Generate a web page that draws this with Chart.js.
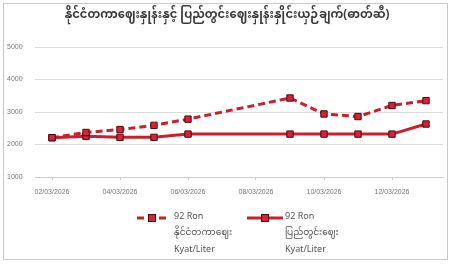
<!DOCTYPE html>
<html>
<head>
<meta charset="utf-8">
<script src="https://cdn.jsdelivr.net/npm/chart.js@4"></script>
<style>
    body { margin: 0; background: #fff; }
    #wrap { width: 459px; height: 265px; }
</style>
</head>
<body>
<div id="wrap"><canvas id="chart" width="459" height="265"></canvas></div>
<script>
const chartTitle = "နိုင်ငံတကာဈေးနှုန်းနှင့် ပြည်တွင်းဈေးနှုန်းနှိုင်းယှဉ်ချက်(ဓာတ်ဆီ)";
const dates = ["02/03/2026", "03/03/2026", "04/03/2026", "05/03/2026", "06/03/2026", "07/03/2026",
    "08/03/2026", "09/03/2026", "10/03/2026", "11/03/2026", "12/03/2026", "13/03/2026"];
const worldPrice = [2210, 2370, 2460, 2590, 2780, null, null, 3430, 2940, 2860, 3200, 3350];
const localPrice = [2210, 2250, 2220, 2220, 2320, null, null, 2320, 2320, 2320, 2320, 2630];
const legendLines = [
    ["92 Ron", "နိုင်ငံတကာဈေး", "Kyat/Liter"],
    ["92 Ron", "ပြည်တွင်းဈေး", "Kyat/Liter"]
];
const yTicks = [1000, 2000, 3000, 4000, 5000];

const myFont = "'Noto Sans Myanmar', 'Padauk', 'Myanmar Text', 'Noto Sans', sans-serif";

const framePlugin = {
    id: "frame",
    beforeDraw(chart) {
        const ctx = chart.ctx;
        ctx.save();
        ctx.fillStyle = "#fff";
        ctx.fillRect(0, 0, chart.width, chart.height);
        ctx.strokeStyle = "#c8c8c8";
        ctx.lineWidth = 1;
        ctx.strokeRect(3.5, 3.5, 444, 256);
        ctx.fillStyle = "#3a3a3a";
        ctx.font = "bold 11.5px " + myFont;
        ctx.textAlign = "center";
        ctx.textBaseline = "middle";
        ctx.fillText(chartTitle, 227, 17);
        ctx.restore();
    },
    afterDraw(chart) {
        // legend with three-line labels
        const ctx = chart.ctx;
        const spots = [{ x: 137, w: 30, tx: 174 }, { x: 247, w: 36, tx: 285 }];
        ctx.save();
        chart.data.datasets.forEach((ds, i) => {
            const s = spots[i];
            const y = 218;
            ctx.strokeStyle = ds.borderColor;
            ctx.lineWidth = ds.borderWidth;
            ctx.setLineDash(ds.borderDash || []);
            ctx.beginPath();
            ctx.moveTo(s.x, y);
            ctx.lineTo(s.x + s.w, y);
            ctx.stroke();
            ctx.setLineDash([]);
            ctx.fillStyle = ds.pointBackgroundColor;
            ctx.strokeStyle = ds.pointBorderColor;
            ctx.lineWidth = 1;
            const cx = s.x + s.w / 2;
            ctx.fillRect(cx - 3.5, y - 3.5, 7, 7);
            ctx.strokeRect(cx - 3.5, y - 3.5, 7, 7);
            ctx.fillStyle = "#555";
            ctx.textAlign = "left";
            ctx.textBaseline = "middle";
            legendLines[i].forEach((line, j) => {
                ctx.font = "9px " + myFont;
                ctx.fillText(line, s.tx, y + j * 16.5);
            });
        });
        ctx.restore();
    }
};

new Chart(document.getElementById("chart"), {
    type: "line",
    data: {
        labels: dates,
        datasets: [{
            label: legendLines[0].join(" "),
            data: worldPrice,
            borderColor: "#cc1f2b",
            borderWidth: 3,
            borderDash: [7, 4],
            pointStyle: "rect",
            pointRadius: 4.5,
            pointBackgroundColor: "#d9213a",
            pointBorderColor: "#4a0a0a",
            pointBorderWidth: 1,
            spanGaps: true,
            tension: 0
        }, {
            label: legendLines[1].join(" "),
            data: localPrice,
            borderColor: "#cc1f2b",
            borderWidth: 3,
            pointStyle: "rect",
            pointRadius: 4.5,
            pointBackgroundColor: "#d9213a",
            pointBorderColor: "#4a0a0a",
            pointBorderWidth: 1,
            spanGaps: true,
            tension: 0
        }]
    },
    options: {
        responsive: false,
        animation: false,
        layout: { padding: { left: 7, right: 16, top: 47, bottom: 0 } },
        plugins: {
            legend: { display: false },
            title: { display: false },
            tooltip: { enabled: false }
        },
        scales: {
            x: {
                offset: true,
                afterFit: scale => { scale.height = 88; },
                grid: {
                    drawOnChartArea: false,
                    drawTicks: true,
                    tickLength: 3,
                    color: "#c8c8c8"
                },
                border: { color: "#d0d0d0" },
                ticks: {
                    autoSkip: false,
                    maxRotation: 0,
                    padding: 8,
                    color: "#777",
                    font: { size: 7, family: "'Liberation Sans', sans-serif" },
                    callback: function (value, index) {
                        return index % 2 === 0 ? this.getLabelForValue(value) : null;
                    }
                }
            },
            y: {
                min: yTicks[0],
                max: yTicks[yTicks.length - 1],
                afterFit: scale => { scale.width = 28; },
                afterBuildTicks: scale => { scale.ticks = yTicks.map(v => ({ value: v })); },
                grid: { color: "#dcdcdc", drawTicks: false },
                border: { display: false },
                ticks: {
                    crossAlign: "far",
                    padding: 8,
                    color: "#777",
                    font: { size: 7, family: "'Liberation Sans', sans-serif" },
                    callback: value => String(value)
                }
            }
        }
    },
    plugins: [framePlugin]
});
</script>
</body>
</html>
